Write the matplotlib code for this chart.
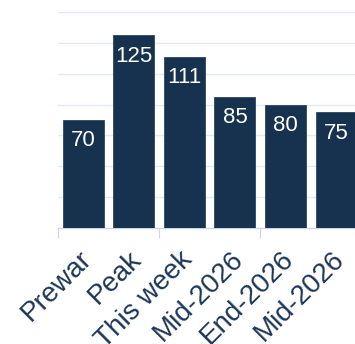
import matplotlib
matplotlib.use("Agg")
import matplotlib.pyplot as plt
from matplotlib.transforms import ScaledTranslation

categories = ["Prewar", "Peak", "This week", "Mid-2026", "End-2026", "Mid-2026"]
values = [70, 125, 111, 85, 80, 75]
grid_values = [0, 20, 40, 60, 80, 100, 120, 140]

plt.rcParams['font.family'] = ['Liberation Sans', 'DejaVu Sans']

bar_color = "#16324f"
text_color = "#1b3656"
grid_color = "#dfeaf6"
axis_color = "#ccd6eb"

fig = plt.figure(figsize=(3.55, 3.44), dpi=100)
ax = fig.add_axes([58/355, 116/344, 1 - 58/355, 228/344])

x = list(range(len(categories)))
ax.bar(x, values, width=0.81, color=bar_color, zorder=3, edgecolor="#2c4663", linewidth=0.6)

for xi, v in zip(x, values):
    ax.annotate(str(v), (xi, v), xytext=(0, -15), textcoords="offset points",
                ha="center", va="center", color="white", fontsize=16, zorder=4)

for g in grid_values[1:]:
    ax.axhline(g, color=grid_color, linewidth=1, zorder=1)

for s in ["top", "right", "left"]:
    ax.spines[s].set_visible(False)
ax.spines["bottom"].set_color(axis_color)
ax.spines["bottom"].set_linewidth(1)
ax.set_yticks([])

ax.set_xticks([-0.5, 1.5, 3.5, 5.5], minor=False)
ax.tick_params(axis="x", which="major", length=7, color=axis_color, labelbottom=False)
ax.set_xticks(x, minor=True)
ax.set_xticklabels(categories, minor=True, rotation=45, ha="right", va="top",
                   rotation_mode="anchor", fontsize=20, color=text_color)
ax.tick_params(axis="x", which="minor", length=0, pad=13)
off = ScaledTranslation(-5/100, 0, fig.dpi_scale_trans)
for lab in ax.get_xticklabels(minor=True):
    lab.set_transform(lab.get_transform() + off)

ax.set_xlim(-0.5, 5.376)
ax.set_ylim(0, 147.8)

fig.savefig("out.png", dpi=100)
